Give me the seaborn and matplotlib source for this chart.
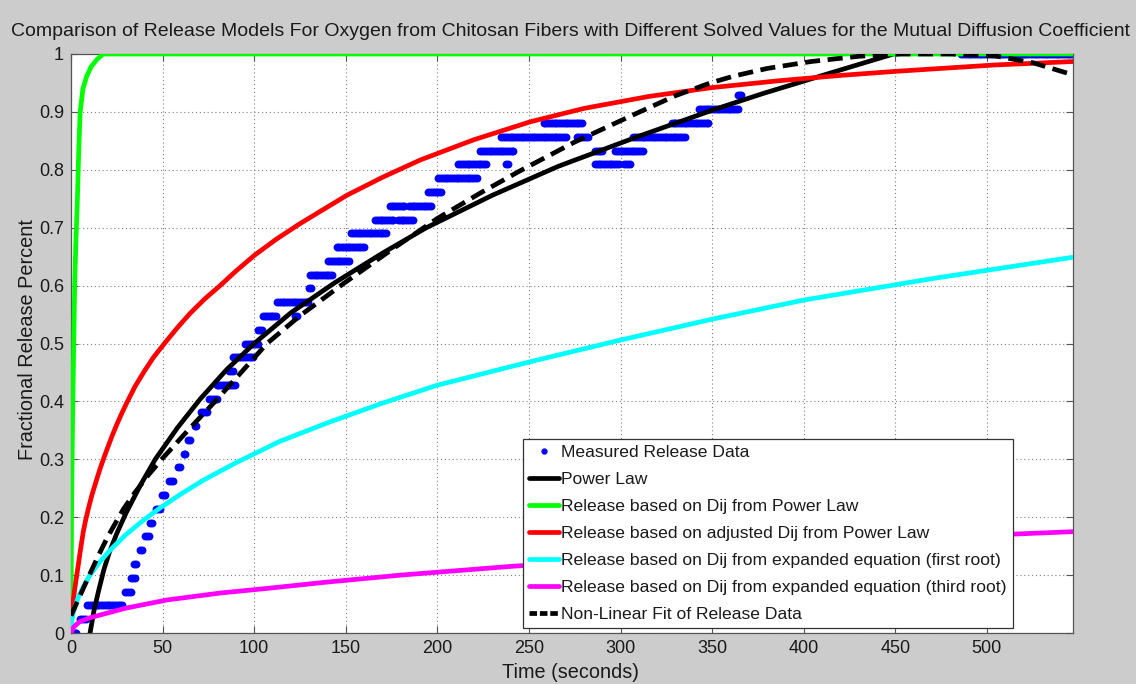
import numpy as np
import pandas as pd
import matplotlib
matplotlib.use("Agg")
import matplotlib.pyplot as plt
from matplotlib.lines import Line2D
import seaborn as sns

# ---------------- data ----------------
# Measured release data: runs of samples sitting on one value (value, start s, end s)
run_value = [0.000, 0.024, 0.048, 0.071, 0.095, 0.119, 0.143, 0.167, 0.190, 0.214,
             0.238, 0.262, 0.286, 0.310, 0.333, 0.357, 0.381, 0.405, 0.429, 0.452,
             0.476, 0.500, 0.524, 0.548, 0.548, 0.571, 0.595, 0.619, 0.643, 0.667,
             0.690, 0.714, 0.714, 0.738, 0.738, 0.762, 0.786, 0.810, 0.810, 0.833,
             0.857, 0.857, 0.881, 0.810, 0.810, 0.833, 0.833, 0.857, 0.881, 0.905,
             0.929, 1.000]
run_start = [0, 5, 9, 29.5, 33, 34.5, 37.5, 40.5, 43, 46.5,
             49.5, 53.5, 58.5, 61.5, 64, 67.5, 71, 75.5, 79.5, 86.5,
             88.5, 95, 102, 105, 122.5, 112.5, 130, 130.5, 140.5, 145,
             153, 166, 178.5, 174, 184.5, 195, 200.5, 211.5, 237.5, 223.5,
             235, 276, 258, 286, 302, 286, 297, 307, 328, 343,
             364, 486]
run_end = [3, 8, 28.5, 32.5, 35, 36, 39, 42.5, 44.5, 48.5,
           52, 55.5, 60, 63, 65.5, 69, 74, 79.5, 90, 88.5,
           99.5, 102, 104, 112, 123.5, 129.5, 131, 142.5, 151.5, 160.5,
           172.5, 176, 187, 182.5, 197, 202.5, 221.5, 227, 238.5, 241.5,
           270, 282, 279, 299, 305.5, 290, 312, 335.5, 348, 364,
           366, 547]
sample_step = 1.0  # seconds between measured samples

# Model curves (time s, fraction)
power_t = [8, 10.4, 12.5, 15, 18, 21, 25, 30, 38, 46, 58, 70.5, 85, 100, 120, 144,
           170, 194, 230, 266, 310, 351, 378, 404, 428, 449, 500, 547]
power_y = [-0.03, 0.0, 0.038, 0.072, 0.11, 0.14, 0.172, 0.207, 0.256, 0.30, 0.354,
           0.404, 0.455, 0.50, 0.553, 0.605, 0.656, 0.70, 0.756, 0.806, 0.858, 0.904,
           0.932, 0.957, 0.98, 1.0, 1.042, 1.077]

green_t = [0, 0.15, 0.3, 0.6, 1, 1.5, 2, 2.7, 3.5, 4.2, 5, 6.5, 8.6, 11, 14, 17.5, 547]
green_y = [0, 0.12, 0.20, 0.30, 0.40, 0.50, 0.60, 0.68, 0.75, 0.83, 0.90, 0.94, 0.962,
           0.978, 0.99, 1.0, 1.0]

red_t = [0, 0.25, 0.5, 1, 1.5, 2, 3, 4, 5, 6.7, 8, 9.5, 11.3, 13.5, 15.8, 18, 20,
         22.5, 25, 27.5, 30.5, 35, 40, 45, 51, 58, 65, 73, 81.4, 90, 100, 112, 125,
         137, 150.6, 170, 190.7, 220, 250.8, 280, 316, 350, 387, 420, 450, 504, 547]
red_y = [0, 0.02, 0.033, 0.05, 0.063, 0.075, 0.097, 0.118, 0.14, 0.175, 0.195, 0.215,
         0.237, 0.26, 0.283, 0.303, 0.32, 0.341, 0.36, 0.378, 0.398, 0.426, 0.452,
         0.476, 0.50, 0.527, 0.552, 0.577, 0.60, 0.625, 0.652, 0.68, 0.707, 0.73,
         0.756, 0.787, 0.817, 0.852, 0.883, 0.906, 0.927, 0.942, 0.954, 0.963, 0.970,
         0.981, 0.987]

cyan_t = [0, 0.3, 1, 2, 4, 6.7, 10, 15, 21.3, 30, 40, 48.6, 60, 72.3, 90, 114, 140,
          170, 200, 250, 300, 350, 400, 470, 547]
cyan_y = [0, 0.017, 0.031, 0.044, 0.062, 0.08, 0.098, 0.12, 0.143, 0.17, 0.196, 0.216,
          0.240, 0.264, 0.294, 0.331, 0.363, 0.397, 0.428, 0.468, 0.506, 0.542, 0.575,
          0.612, 0.649]

magenta_t = [0, 0.4, 1, 2, 4.9, 10, 15.8, 30, 52.3, 81.4, 107, 140, 180, 240, 300,
             350, 400, 460, 516, 547]
magenta_y = [0, 0.002, 0.008, 0.012, 0.020, 0.026, 0.031, 0.043, 0.057, 0.069, 0.077,
             0.088, 0.100, 0.115, 0.128, 0.138, 0.148, 0.160, 0.171, 0.175]

fit_t = [0, 5, 10, 15, 20, 28.6, 35, 42, 49.5, 65, 78.7, 92, 107, 125, 149, 175, 200,
         223.5, 245, 275, 307, 330, 349, 362, 380, 404, 430, 453, 480, 504, 525, 547]
fit_y = [0.03, 0.065, 0.10, 0.134, 0.166, 0.214, 0.243, 0.272, 0.30, 0.354, 0.40,
         0.447, 0.50, 0.548, 0.604, 0.662, 0.716, 0.76, 0.798, 0.848, 0.895, 0.928,
         0.95, 0.962, 0.975, 0.987, 0.996, 1.0, 1.0, 0.997, 0.985, 0.964]

x_ticks = [0, 50, 100, 150, 200, 250, 300, 350, 400, 450, 500]
y_ticks = [0, 0.1, 0.2, 0.3, 0.4, 0.5, 0.6, 0.7, 0.8, 0.9, 1]
y_tick_labels = ["0", "0.1", "0.2", "0.3", "0.4", "0.5", "0.6", "0.7", "0.8", "0.9", "1"]

labels = ["Measured Release Data", "Power Law", "Release based on Dij from Power Law",
          "Release based on adjusted Dij from Power Law",
          "Release based on Dij from expanded equation (first root)",
          "Release based on Dij from expanded equation (third root)",
          "Non-Linear Fit of Release Data"]
title = ("Comparison of Release Models For Oxygen from Chitosan Fibers with Different "
         "Solved Values for the Mutual Diffusion Coefficient")

# ---------------- build tables ----------------
mt, mv = [], []
for v, a, b in zip(run_value, run_start, run_end):
    ts = np.arange(a, b + 1e-9, sample_step)
    mt.extend(ts)
    mv.extend([v] * len(ts))
measured = pd.DataFrame({"t": mt, "y": mv})

# ---------------- style ----------------
sns.set_theme(style="white")
plt.rcParams["font.family"] = ["Liberation Sans", "DejaVu Sans"]
plt.rcParams["text.color"] = "#1a1a1a"

fig = plt.figure(figsize=(11.36, 6.84), dpi=100, facecolor="#cccccc")
ax = fig.add_axes([71 / 1136, 1 - 633 / 684, (1073 - 71) / 1136, (633 - 54) / 684])
ax.set_facecolor("white")

lw = 3.4
sns.scatterplot(data=measured, x="t", y="y", ax=ax, color="#0000ff", s=32,
                linewidth=0, legend=False, zorder=2)
curves = [(power_t, power_y, "black"), (green_t, green_y, "#00ff00"),
          (red_t, red_y, "#ff0000"), (cyan_t, cyan_y, "#00ffff"),
          (magenta_t, magenta_y, "#ff00ff"), (fit_t, fit_y, "black")]
for tx, ty, col in curves:
    sns.lineplot(x=tx, y=ty, ax=ax, color=col, lw=lw, sort=False, estimator=None,
                 zorder=3)
ax.lines[-1].set_dashes([3.2, 1.6])
for ln in ax.lines:
    ln.set_solid_joinstyle("round")
    ln.set_dash_joinstyle("round")

ax.set_xlim(0, 547)
ax.set_ylim(0, 1)
ax.set_xticks(x_ticks)
ax.set_yticks(y_ticks)
ax.set_yticklabels(y_tick_labels)
ax.set_xlabel("")
ax.set_ylabel("")
ax.tick_params(direction="in", length=5, width=0.8, colors="#555555",
               labelcolor="#1a1a1a", labelsize=13, pad=5,
               top=True, right=True, bottom=True, left=True)
ax.grid(True, color="#808080", linestyle=(0, (1, 2.5)), linewidth=0.8)
for s in ax.spines.values():
    s.set_color("#555555")
    s.set_linewidth(0.9)

# legend
handles = [Line2D([], [], color="#0000ff", marker="o", ls="none", ms=3.5)]
for col in ["black", "#00ff00", "#ff0000", "#00ffff", "#ff00ff"]:
    handles.append(Line2D([], [], color=col, lw=lw))
handles.append(Line2D([], [], color="black", lw=lw, dashes=[1.6, 0.6]))
leg = ax.legend(handles, labels, loc="lower right", bbox_to_anchor=(0.940, 0.0086),
                fontsize=12.6, frameon=True, fancybox=False, framealpha=1,
                edgecolor="#333333", handlelength=1.7, handletextpad=0.15,
                labelspacing=0.67, borderpad=0.35, borderaxespad=0)
leg.get_frame().set_linewidth(0.9)

fig.text(570 / 1136, 1 - 36 / 684, title, ha="center", va="baseline", fontsize=14.0)
fig.text(570 / 1136, 1 - 672 / 684, "Time (seconds)", ha="center", va="center",
         fontsize=14.3)
fig.text(28 / 1136, 1 - 340 / 684, "Fractional Release Percent", ha="center",
         va="center", rotation=90, fontsize=14.3)

fig.savefig("out.png", dpi=100, facecolor=fig.get_facecolor())
